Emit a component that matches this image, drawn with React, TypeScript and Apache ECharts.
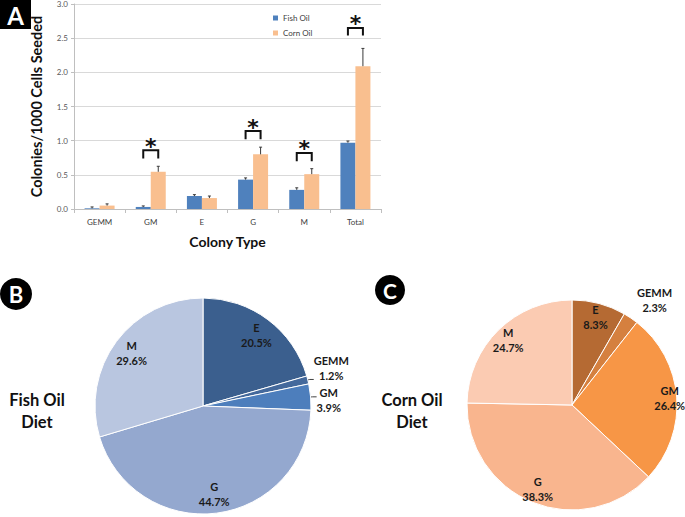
import React, { useEffect, useRef } from 'react';
import * as echarts from 'echarts';

// ---------- Panel A data ----------
const categories = ['GEMM', 'GM', 'E', 'G', 'M', 'Total'];
const fishOil = [0.01, 0.03, 0.19, 0.43, 0.28, 0.97];
const cornOil = [0.05, 0.545, 0.16, 0.80, 0.51, 2.09];
const fishOilErrTop = [0.03, 0.045, 0.21, 0.455, 0.31, 0.995];
const cornOilErrTop = [0.075, 0.625, 0.19, 0.905, 0.59, 2.35];
const yTicks = [0, 0.5, 1.0, 1.5, 2.0, 2.5, 3.0];
const sigCategories = ['GM', 'G', 'M', 'Total'];
const sigTop = [0.86, 1.14, 0.82, 2.65];
const sigLeg = [0.74, 1.02, 0.70, 2.54];

// ---------- Panels B / C data ----------
const pieNames = ['E', 'GEMM', 'GM', 'G', 'M'];
const fishPieValues = [20.5, 1.2, 3.9, 44.7, 29.6];
const cornPieValues = [8.3, 2.3, 26.4, 38.3, 24.7];

// styles
const fishPalette = ['#3B5F8E', '#44699C', '#4D7EBC', '#94A8CF', '#B9C6E0'];
const cornPalette = ['#B56A33', '#D5803F', '#F79646', '#F9B58E', '#FBCBB2'];
const FONT = 'Lato, "Open Sans", sans-serif';
const BAR_W = 15;

const pieRich = {
  n: { fontSize: 11, fontWeight: 'bold', fontFamily: FONT, color: '#1a1a1a', lineHeight: 15, align: 'center' },
};

function errRender(sign: number) {
  return (params: any, api: any) => {
    const base = api.coord([api.value(0), api.value(1)]);
    const top = api.coord([api.value(0), api.value(2)]);
    const cx = base[0] + (sign * BAR_W) / 2;
    const st = { stroke: '#3a3a3a', lineWidth: 1 };
    return {
      type: 'group',
      children: [
        { type: 'line', shape: { x1: cx, y1: base[1], x2: cx, y2: top[1] }, style: st },
        { type: 'line', shape: { x1: cx - 1.5, y1: top[1], x2: cx + 1.5, y2: top[1] }, style: st },
      ],
    };
  };
}

function sigRender(params: any, api: any) {
  const t = api.coord([api.value(0), api.value(1)]);
  const l = api.coord([api.value(0), api.value(2)]);
  const x1 = t[0] - BAR_W / 2;
  const x2 = t[0] + BAR_W / 2;
  return {
    type: 'group',
    children: [
      {
        type: 'polyline',
        shape: { points: [[x1, l[1]], [x1, t[1]], [x2, t[1]], [x2, l[1]]] },
        style: { stroke: '#111', lineWidth: 2, fill: 'none' },
      },
      {
        type: 'text',
        x: t[0],
        y: t[1] - 4,
        style: {
          text: '*', fill: '#111', fontSize: 22, fontWeight: 'bold', fontFamily: 'DejaVu Sans',
          align: 'center', verticalAlign: 'middle', textAlign: 'center', textVerticalAlign: 'middle',
        },
      },
    ],
  };
}

function pieItems(values: number[], palette: string[], custom: Record<string, any>) {
  return pieNames.map((n, i) => ({
    name: n,
    value: values[i],
    itemStyle: { color: palette[i] },
    ...(custom[n] || {}),
  }));
}

function overlayItems(values: number[], show: string[]) {
  return pieNames.map((n, i) => ({
    name: n,
    value: values[i],
    label: { show: show.includes(n) },
  }));
}

const overlayBase = {
  type: 'pie',
  startAngle: 90,
  clockwise: true,
  silent: true,
  avoidLabelOverlap: false,
  labelLayout: { hideOverlap: false },
  itemStyle: { color: 'rgba(0,0,0,0)', borderWidth: 0 },
  label: { position: 'inside', formatter: '{n|{b}}\n{n|{c}%}', rich: pieRich },
  labelLine: { show: false },
  emphasis: { disabled: true },
};

function badgeText(x: number, y: number, t: string, size: number) {
  return {
    type: 'text',
    x,
    y,
    style: {
      text: t, fill: '#fff', fontSize: size, fontWeight: 'bold', fontFamily: FONT,
      align: 'center', verticalAlign: 'middle', textAlign: 'center', textVerticalAlign: 'middle',
    },
  };
}

function titleText(x: number, y: number, t: string) {
  return {
    type: 'text',
    x,
    y,
    style: {
      text: t, fill: '#111', fontSize: 16.5, fontWeight: 'bold', fontFamily: FONT, lineHeight: 22,
      align: 'center', verticalAlign: 'middle', textAlign: 'center', textVerticalAlign: 'middle',
    },
  };
}

const outsideLine = { show: true, length: 2, length2: 4, lineStyle: { color: '#404040', width: 1 } };

export default function App() {
  const ref = useRef<HTMLDivElement>(null);
  useEffect(() => {
    const chart = echarts.init(ref.current!, null, { renderer: 'svg' });
    const option: any = {
      animation: false,
      backgroundColor: '#fff',
      legend: {
        data: ['Fish Oil', 'Corn Oil'],
        orient: 'vertical',
        left: 268,
        top: 9,
        itemWidth: 5,
        itemHeight: 5,
        itemGap: 7,
        icon: 'rect',
        textStyle: { fontSize: 8, color: '#404040', fontFamily: FONT },
      },
      grid: { left: 74, right: 304, top: 3, bottom: 308 },
      xAxis: {
        type: 'category',
        data: categories,
        name: 'Colony Type',
        nameLocation: 'middle',
        nameGap: 25,
        nameTextStyle: { fontSize: 14, fontWeight: 'bold', color: '#111', fontFamily: FONT },
        axisLine: { lineStyle: { color: '#bfbfbf' } },
        axisTick: { show: true, length: 4, lineStyle: { color: '#bfbfbf' } },
        axisLabel: { fontSize: 8, color: '#404040', margin: 9, fontFamily: FONT },
      },
      yAxis: {
        type: 'value',
        min: yTicks[0],
        max: yTicks[yTicks.length - 1],
        interval: 0.5,
        name: 'Colonies/1000 Cells Seeded',
        nameLocation: 'middle',
        nameGap: 30,
        nameTextStyle: { fontSize: 14.5, fontWeight: 'bold', color: '#111', fontFamily: FONT },
        axisLine: { show: true, lineStyle: { color: '#bfbfbf' } },
        axisTick: { show: true, length: 3, lineStyle: { color: '#bfbfbf' } },
        axisLabel: { fontSize: 8, color: '#595959', margin: 6, fontFamily: FONT, formatter: (v: number) => v.toFixed(1) },
        splitLine: { lineStyle: { color: '#d9d9d9' } },
      },
      series: [
        { name: 'Fish Oil', type: 'bar', data: fishOil, barWidth: BAR_W, barGap: '0%', itemStyle: { color: '#4F81BD' }, silent: true },
        { name: 'Corn Oil', type: 'bar', data: cornOil, barWidth: BAR_W, barGap: '0%', itemStyle: { color: '#F9BF8F' }, silent: true },
        {
          type: 'custom', coordinateSystem: 'cartesian2d', renderItem: errRender(-1), silent: true, z: 5,
          data: categories.map((c, i) => [c, fishOil[i], fishOilErrTop[i]]),
        },
        {
          type: 'custom', coordinateSystem: 'cartesian2d', renderItem: errRender(1), silent: true, z: 5,
          data: categories.map((c, i) => [c, cornOil[i], cornOilErrTop[i]]),
        },
        {
          type: 'custom', coordinateSystem: 'cartesian2d', renderItem: sigRender, silent: true, z: 6,
          data: sigCategories.map((c, i) => [c, sigTop[i], sigLeg[i]]),
        },
        // Panel B
        {
          type: 'pie', center: [203, 406], radius: 108, startAngle: 90, clockwise: true,
          silent: true, avoidLabelOverlap: false, labelLayout: { hideOverlap: false },
          itemStyle: { borderColor: '#fff', borderWidth: 1 },
          label: { show: false, position: 'outside', formatter: '{n|{b}}\n{n|{c}%}', rich: pieRich, distanceToLabelLine: 0 },
          labelLine: { show: false },
          data: pieItems(fishPieValues, fishPalette, {
            GEMM: { label: { show: true, padding: [0, 0, 22, 0] }, labelLine: outsideLine },
          }),
        },
        {
          type: 'pie', center: [203, 406], radius: 108, startAngle: 90, clockwise: true,
          silent: true, avoidLabelOverlap: false, labelLayout: { hideOverlap: false },
          itemStyle: { color: 'rgba(0,0,0,0)', borderWidth: 0 },
          label: { show: false, position: 'outside', formatter: '{n|{b}}\n{n|{c}%}', rich: pieRich, distanceToLabelLine: 0 },
          labelLine: { show: false },
          data: pieNames.map((n, i) => ({
            name: n,
            value: fishPieValues[i],
            ...(n === 'GM' ? { label: { show: true, padding: [6, 0, 0, 0] }, labelLine: outsideLine } : {}),
          })),
        },
        { ...overlayBase, center: [203, 406], radius: [64, 108], data: overlayItems(fishPieValues, ['E', 'G', 'M']) },
        // Panel C
        {
          type: 'pie', center: [572, 405], radius: 105, startAngle: 90, clockwise: true,
          silent: true, avoidLabelOverlap: false, labelLayout: { hideOverlap: false },
          itemStyle: { borderColor: '#fff', borderWidth: 1 },
          label: { show: false, position: 'outside', formatter: '{n|{b}}\n{n|{c}%}', rich: pieRich, distanceToLabelLine: 0 },
          labelLine: { show: false },
          data: pieItems(cornPieValues, cornPalette, {
            GEMM: { label: { show: true }, labelLine: { show: false, length: 22, length2: -6 } },
          }),
        },
        { ...overlayBase, center: [572, 405], radius: [71, 105], data: overlayItems(cornPieValues, ['E', 'G', 'M']) },
        { ...overlayBase, center: [572, 405], radius: [85, 105], data: overlayItems(cornPieValues, ['GM']) },
      ],
      graphic: [
        { type: 'rect', shape: { x: 0, y: 0, width: 31, height: 29 }, style: { fill: '#000' } },
        badgeText(15.5, 15, 'A', 24),
        { type: 'circle', shape: { cx: 16, cy: 294, r: 16 }, style: { fill: '#000' } },
        badgeText(16, 294.5, 'B', 22),
        { type: 'circle', shape: { cx: 390, cy: 290, r: 15 }, style: { fill: '#000' } },
        badgeText(390, 290.5, 'C', 21),
        titleText(37, 411, 'Fish Oil\nDiet'),
        titleText(412, 411, 'Corn Oil\nDiet'),
      ],
    };
    chart.setOption(option);
    return () => chart.dispose();
  }, []);
  return (
    <div
      ref={ref}
      style={{ position: 'absolute', left: 0, top: 0, width: 685, height: 517, background: '#fff' }}
    />
  );
}
